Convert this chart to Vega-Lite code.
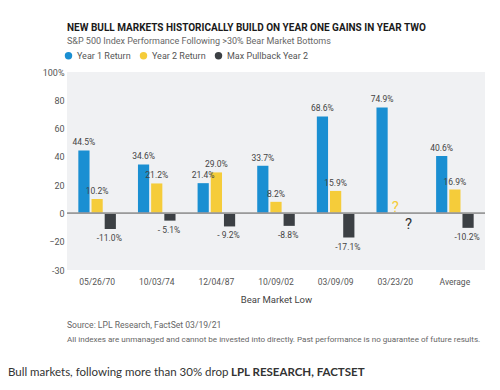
{
  "$schema": "https://vega.github.io/schema/vega-lite/v6.json",
  "padding": {"left": 8, "top": 23, "right": 5, "bottom": 0},
  "background": "white",
  "config": {
    "font": "Roboto, sans-serif",
    "view": {"stroke": null},
    "concat": {"spacing": 17}
  },
  "datasets": {
    "returns": [
      {"date": "05/26/70", "series": "Year 1 Return", "value": 44.5, "label": "44.5%"},
      {"date": "05/26/70", "series": "Year 2 Return", "value": 10.2, "label": "10.2%"},
      {"date": "05/26/70", "series": "Max Pullback Year 2", "value": -11.0, "label": "-11.0%"},
      {"date": "10/03/74", "series": "Year 1 Return", "value": 34.6, "label": "34.6%"},
      {"date": "10/03/74", "series": "Year 2 Return", "value": 21.2, "label": "21.2%"},
      {"date": "10/03/74", "series": "Max Pullback Year 2", "value": -5.1, "label": "- 5.1%"},
      {"date": "12/04/87", "series": "Year 1 Return", "value": 21.4, "label": "21.4%"},
      {"date": "12/04/87", "series": "Year 2 Return", "value": 29.0, "label": "29.0%"},
      {"date": "12/04/87", "series": "Max Pullback Year 2", "value": -9.2, "label": "- 9.2%"},
      {"date": "10/09/02", "series": "Year 1 Return", "value": 33.7, "label": "33.7%"},
      {"date": "10/09/02", "series": "Year 2 Return", "value": 8.2, "label": "8.2%"},
      {"date": "10/09/02", "series": "Max Pullback Year 2", "value": -8.8, "label": "-8.8%"},
      {"date": "03/09/09", "series": "Year 1 Return", "value": 68.6, "label": "68.6%"},
      {"date": "03/09/09", "series": "Year 2 Return", "value": 15.9, "label": "15.9%"},
      {"date": "03/09/09", "series": "Max Pullback Year 2", "value": -17.1, "label": "-17.1%"},
      {"date": "03/23/20", "series": "Year 1 Return", "value": 74.9, "label": "74.9%"},
      {"date": "03/23/20", "series": "Year 2 Return", "value": null, "label": "?"},
      {"date": "03/23/20", "series": "Max Pullback Year 2", "value": null, "label": "?"},
      {"date": "Average", "series": "Year 1 Return", "value": 40.6, "label": "40.6%"},
      {"date": "Average", "series": "Year 2 Return", "value": 16.9, "label": "16.9%"},
      {"date": "Average", "series": "Max Pullback Year 2", "value": -10.2, "label": "-10.2%"}
    ]
  },
  "vconcat": [
    {
      "width": 418,
      "height": 198,
      "view": {"fill": "#f0f1f3", "stroke": null},
      "data": {"name": "returns"},
      "title": {
        "text": "NEW BULL MARKETS HISTORICALLY BUILD ON YEAR ONE GAINS IN YEAR TWO",
        "subtitle": "S&P 500 Index Performance Following >30% Bear Market Bottoms",
        "anchor": "start",
        "frame": "group",
        "fontSize": 10,
        "fontWeight": "bold",
        "color": "#1a1a1a",
        "subtitleFontSize": 9,
        "subtitleColor": "#666666",
        "subtitlePadding": 4,
        "offset": 22
      },
      "layer": [
        {
          "mark": {"type": "bar"},
          "transform": [{"filter": "isValid(datum.value)"}],
          "encoding": {
            "x": {
              "field": "date",
              "type": "nominal",
              "sort": null,
              "scale": {"paddingInner": 0.37, "paddingOuter": 0.19},
              "axis": {
                "title": "Bear Market Low",
                "titleFontSize": 9.5,
                "titleFontWeight": "normal",
                "titleColor": "#444444",
                "titlePadding": 9,
                "labelFontSize": 8.5,
                "labelColor": "#555555",
                "labelAngle": 0,
                "labelPadding": 7,
                "ticks": false,
                "domain": false
              }
            },
            "xOffset": {
              "field": "series",
              "type": "nominal",
              "sort": ["Year 1 Return", "Year 2 Return", "Max Pullback Year 2"],
              "scale": {"paddingInner": 0.15}
            },
            "y": {
              "field": "value",
              "type": "quantitative",
              "scale": {"domain": [-40, 100], "nice": false},
              "axis": {"title": null, "values": [100, 80, 60, 40, 20, 0, -20, -40], "labelExpr": "datum.value == 100 ? '100%' : (datum.value == -40 ? '-30' : datum.label)", "labelOverlap": false, "labelFontSize": 9, "labelColor": "#555555", "labelPadding": 3, "ticks": false, "domain": false, "grid": false}
            },
            "color": {
              "field": "series",
              "type": "nominal",
              "sort": ["Year 1 Return", "Year 2 Return", "Max Pullback Year 2"],
              "scale": {
                "domain": ["Year 1 Return", "Year 2 Return", "Max Pullback Year 2"],
                "range": ["#1a8fd2", "#f5cc3a", "#3c4044"]
              },
              "legend": {
                "title": null,
                "orient": "none",
                "legendX": -3,
                "legendY": -21,
                "direction": "horizontal",
                "symbolType": "circle",
                "symbolSize": 55,
                "symbolStrokeWidth": 0,
                "labelFontSize": 9,
                "labelColor": "#555555",
                "columnPadding": 8,
                "padding": 0
              }
            }
          }
        },
        {
          "mark": {"type": "text", "baseline": "bottom", "dy": -3, "fontSize": 8.5, "color": "#444444"},
          "transform": [{"filter": "isValid(datum.value) && datum.value >= 0"}],
          "encoding": {
            "x": {"field": "date", "type": "nominal", "sort": null},
            "xOffset": {"field": "series", "type": "nominal", "sort": ["Year 1 Return", "Year 2 Return", "Max Pullback Year 2"]},
            "y": {"field": "value", "type": "quantitative", "axis": {"title": null, "values": [100, 80, 60, 40, 20, 0, -20, -40], "labelExpr": "datum.value == 100 ? '100%' : (datum.value == -40 ? '-30' : datum.label)", "labelOverlap": false, "labelFontSize": 9, "labelColor": "#555555", "labelPadding": 3, "ticks": false, "domain": false, "grid": false}},
            "text": {"field": "label"}
          }
        },
        {
          "mark": {"type": "text", "baseline": "top", "dy": 5, "dx": -1, "fontSize": 8.5, "color": "#444444"},
          "transform": [{"filter": "isValid(datum.value) && datum.value < 0"}],
          "encoding": {
            "x": {"field": "date", "type": "nominal", "sort": null},
            "xOffset": {"field": "series", "type": "nominal", "sort": ["Year 1 Return", "Year 2 Return", "Max Pullback Year 2"]},
            "y": {"field": "value", "type": "quantitative", "axis": {"title": null, "values": [100, 80, 60, 40, 20, 0, -20, -40], "labelExpr": "datum.value == 100 ? '100%' : (datum.value == -40 ? '-30' : datum.label)", "labelOverlap": false, "labelFontSize": 9, "labelColor": "#555555", "labelPadding": 3, "ticks": false, "domain": false, "grid": false}},
            "text": {"field": "label"}
          }
        },
        {
          "mark": {"type": "text", "baseline": "alphabetic", "dy": -1, "fontSize": 15, "color": "#f5cc3a"},
          "transform": [{"filter": "datum.label == '?' && datum.series == 'Year 2 Return'"}],
          "encoding": {
            "x": {"field": "date", "type": "nominal", "sort": null},
            "xOffset": {"field": "series", "type": "nominal", "sort": ["Year 1 Return", "Year 2 Return", "Max Pullback Year 2"]},
            "y": {"datum": 0, "type": "quantitative", "axis": {"title": null, "values": [100, 80, 60, 40, 20, 0, -20, -40], "labelExpr": "datum.value == 100 ? '100%' : (datum.value == -40 ? '-30' : datum.label)", "labelOverlap": false, "labelFontSize": 9, "labelColor": "#555555", "labelPadding": 3, "ticks": false, "domain": false, "grid": false}},
            "text": {"field": "label"}
          }
        },
        {
          "mark": {"type": "text", "baseline": "top", "dy": 4, "fontSize": 15, "color": "#333333"},
          "transform": [{"filter": "datum.label == '?' && datum.series == 'Max Pullback Year 2'"}],
          "encoding": {
            "x": {"field": "date", "type": "nominal", "sort": null},
            "xOffset": {"field": "series", "type": "nominal", "sort": ["Year 1 Return", "Year 2 Return", "Max Pullback Year 2"]},
            "y": {"datum": 0, "type": "quantitative", "axis": {"title": null, "values": [100, 80, 60, 40, 20, 0, -20, -40], "labelExpr": "datum.value == 100 ? '100%' : (datum.value == -40 ? '-30' : datum.label)", "labelOverlap": false, "labelFontSize": 9, "labelColor": "#555555", "labelPadding": 3, "ticks": false, "domain": false, "grid": false}},
            "text": {"field": "label"}
          }
        },
        {
          "mark": {"type": "rule", "color": "#9a9a9a", "strokeWidth": 1},
          "encoding": {
            "y": {"datum": 0, "type": "quantitative", "axis": {"title": null, "values": [100, 80, 60, 40, 20, 0, -20, -40], "labelExpr": "datum.value == 100 ? '100%' : (datum.value == -40 ? '-30' : datum.label)", "labelOverlap": false, "labelFontSize": 9, "labelColor": "#555555", "labelPadding": 3, "ticks": false, "domain": false, "grid": false}}
          }
        }
      ]
    },
    {
      "width": 418,
      "height": 36,
      "title": {
        "text": "Source: LPL Research, FactSet   03/19/21",
        "subtitle": "All indexes are unmanaged and cannot be invested into directly. Past performance is no guarantee of future results.",
        "anchor": "start",
        "frame": "group",
        "fontSize": 8.6,
        "fontWeight": "normal",
        "color": "#666666",
        "subtitleFontSize": 8.1,
        "subtitleColor": "#666666",
        "subtitlePadding": 6,
        "offset": 2
      },
      "data": {"values": [
        {"part": "Bull markets, following more than 30% drop", "w": "normal"},
        {"part": "LPL RESEARCH, FACTSET", "w": "bold"}
      ]},
      "layer": [
        {
          "transform": [{"filter": "datum.w == 'normal'"}],
          "mark": {"type": "text", "align": "left", "baseline": "middle", "font": "Lato", "fontSize": 11.5, "color": "#333333", "dx": -59},
          "encoding": {"x": {"value": 0}, "y": {"value": 27}, "text": {"field": "part"}}
        },
        {
          "transform": [{"filter": "datum.w == 'bold'"}],
          "mark": {"type": "text", "align": "left", "baseline": "middle", "font": "Lato", "fontSize": 11.5, "fontWeight": "bold", "color": "#333333", "dx": 164},
          "encoding": {"x": {"value": 0}, "y": {"value": 27}, "text": {"field": "part"}}
        }
      ]
    }
  ]
}
